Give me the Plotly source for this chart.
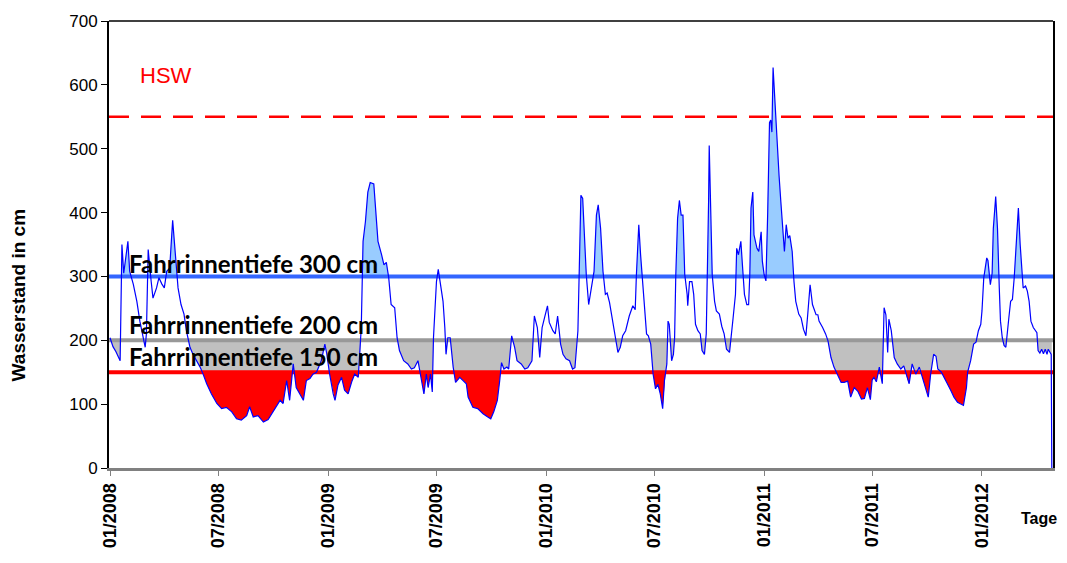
import numpy as np
import pandas as pd
import plotly.graph_objects as go

# Tageswerte Wasserstand (Tag seit 01.01.2008, Wasserstand in cm)
start = pd.Timestamp("2008-01-01")

tage = [
    0, 5, 10, 17, 20, 23, 30, 33, 39, 45, 50, 56, 59, 61, 64, 69, 72, 78, 82, 87,
    91, 95, 100, 105, 109, 112, 114, 119, 124, 128, 134, 139, 145, 151, 156, 162, 170, 179, 187, 195,
    204, 212, 220, 229, 234, 240, 248, 257, 265, 271, 279, 285, 290, 296, 301, 307, 312, 318, 324, 329,
    335, 340, 346, 354, 360, 363, 368, 374, 377, 382, 388, 393, 399, 405, 410, 416, 418, 421, 424, 428,
    432, 436, 442, 446, 449, 455, 459, 463, 467, 471, 477, 481, 485, 492, 499, 505, 510, 516, 522, 526,
    530, 533, 537, 540, 542, 547, 550, 554, 558, 561, 563, 566, 570, 575, 579, 586, 591, 597, 600, 608,
    616, 625, 633, 638, 643, 649, 653, 656, 660, 665, 668, 673, 678, 682, 689, 695, 700, 707, 711, 716,
    720, 724, 728, 733, 736, 742, 746, 750, 755, 759, 764, 770, 775, 779, 784, 786, 789, 792, 795, 798,
    802, 806, 811, 815, 818, 822, 826, 830, 833, 837, 842, 848, 851, 855, 859, 864, 870, 876, 880, 882,
    886, 889, 892, 895, 899, 902, 906, 910, 914, 918, 922, 926, 929, 933, 935, 937, 941, 944, 946, 948,
    951, 954, 957, 960, 963, 967, 968, 971, 975, 978, 981, 985, 989, 992, 996, 999, 1001, 1003, 1004, 1006,
    1009, 1013, 1016, 1021, 1025, 1029, 1033, 1038, 1041, 1044, 1048, 1050, 1053, 1057, 1060, 1063, 1067, 1070, 1072, 1074,
    1077, 1079, 1084, 1087, 1091, 1093, 1096, 1099, 1102, 1105, 1107, 1109, 1111, 1115, 1118, 1121, 1124, 1127, 1130, 1133,
    1136, 1139, 1143, 1146, 1149, 1154, 1158, 1162, 1166, 1169, 1173, 1177, 1183, 1186, 1188, 1194, 1199, 1203, 1208, 1213,
    1219, 1225, 1230, 1236, 1241, 1247, 1253, 1259, 1264, 1269, 1274, 1277, 1280, 1284, 1289, 1294, 1297, 1300, 1303, 1305,
    1309, 1314, 1319, 1325, 1330, 1336, 1339, 1344, 1350, 1356, 1361, 1367, 1371, 1375, 1380, 1384, 1387, 1393, 1397, 1403,
    1409, 1414, 1420, 1425, 1430, 1435, 1437, 1442, 1447, 1451, 1455, 1459, 1461, 1464, 1469, 1471, 1474, 1475, 1478, 1480,
    1484, 1487, 1490, 1492, 1495, 1498, 1501, 1503, 1506, 1509, 1512, 1515, 1519, 1522, 1525, 1528, 1530, 1534, 1537, 1540,
    1543, 1547, 1551, 1553, 1555, 1558, 1561, 1564, 1567, 1570, 1572, 1575, 1577, 1578,
]

wasserstand = [
    204, 190, 182, 168, 350, 305, 355, 308, 288, 261, 230, 199, 189, 210, 342, 292, 266, 282, 298, 288,
    282, 308, 313, 388, 344, 303, 282, 256, 241, 215, 189, 178, 168, 158, 147, 132, 116, 101, 93, 95,
    88, 77, 75, 82, 96, 80, 82, 72, 76, 85, 95, 106, 101, 137, 106, 163, 126, 116, 106, 137,
    140, 147, 150, 168, 194, 180, 147, 116, 106, 130, 142, 122, 116, 135, 147, 142, 168, 220, 355, 386,
    432, 447, 445, 401, 355, 334, 318, 322, 298, 256, 251, 204, 184, 168, 163, 155, 157, 168, 137, 116,
    147, 126, 147, 119, 204, 292, 311, 282, 261, 220, 178, 204, 204, 158, 134, 142, 138, 132, 111, 95,
    93, 85, 80, 77, 88, 106, 137, 165, 155, 158, 155, 207, 189, 168, 163, 155, 157, 168, 238, 220,
    173, 220, 235, 254, 228, 215, 210, 238, 194, 178, 171, 168, 155, 157, 215, 303, 427, 422, 355, 303,
    256, 277, 308, 396, 412, 375, 308, 272, 274, 259, 230, 199, 181, 189, 207, 215, 238, 254, 248, 303,
    381, 334, 292, 251, 210, 207, 194, 147, 124, 131, 116, 93, 137, 163, 230, 225, 168, 178, 204, 303,
    391, 419, 396, 396, 303, 272, 254, 292, 292, 272, 225, 215, 210, 184, 178, 210, 303, 420, 505, 407,
    303, 261, 246, 241, 222, 210, 186, 181, 204, 235, 272, 344, 334, 355, 313, 272, 256, 256, 303, 407,
    432, 365, 344, 339, 370, 324, 303, 293, 400, 541, 545, 526, 627, 552, 505, 458, 417, 375, 339, 381,
    360, 364, 339, 292, 261, 241, 235, 217, 207, 240, 287, 256, 240, 240, 230, 220, 210, 199, 173, 158,
    147, 134, 134, 136, 111, 126, 120, 108, 109, 126, 107, 138, 142, 135, 158, 132, 251, 240, 181, 233,
    215, 173, 163, 155, 160, 139, 132, 163, 147, 158, 142, 121, 111, 147, 178, 175, 155, 150, 142, 132,
    121, 111, 103, 101, 98, 126, 150, 168, 194, 197, 215, 225, 246, 298, 329, 325, 303, 287, 305, 375,
    425, 375, 282, 230, 204, 192, 189, 204, 235, 261, 264, 298, 365, 407, 350, 303, 282, 285, 277, 261,
    230, 220, 215, 212, 184, 180, 186, 179, 186, 178, 186, 181, 178, 0,
]

# Schwellenwerte
HSW = 550
TIEFE_300 = 300
TIEFE_200 = 200
TIEFE_150 = 150

# Achsenbeschriftung
tick_tage = [0, 182, 366, 547, 731, 912, 1096, 1277, 1461]
tick_text = ["01/2008", "07/2008", "01/2009", "07/2009", "01/2010",
             "07/2010", "01/2011", "07/2011", "01/2012"]

FONT = "Liberation Sans, Arial, sans-serif"


def mit_schnittpunkten(t, v, levels):
    """Insert the exact crossing points with each level so the fills end on the curve."""
    tt, vv = [t[0]], [v[0]]
    for i in range(1, len(t)):
        t0, v0, t1, v1 = t[i - 1], v[i - 1], t[i], v[i]
        cuts = []
        for h in levels:
            if (v0 - h) * (v1 - h) < 0:
                cuts.append((t0 + (h - v0) / (v1 - v0) * (t1 - t0), h))
        for c, h in sorted(cuts):
            tt.append(c)
            vv.append(h)
        tt.append(t1)
        vv.append(v1)
    return np.array(tt, dtype=float), np.array(vv, dtype=float)


t_arr = np.array(tage, dtype=float)
v_arr = np.array(wasserstand, dtype=float)
tf, vf = mit_schnittpunkten(t_arr, v_arr, [TIEFE_300, TIEFE_200, TIEFE_150])

to_date = lambda d: start + pd.to_timedelta(d, unit="D")
x_fill = to_date(tf)
x_line = to_date(t_arr)

x_lo = to_date(-1.67)
x_hi = to_date(1580.0)

fig = go.Figure()


def band(base, upper, color):
    fig.add_trace(go.Scatter(x=x_fill, y=np.full_like(vf, base), mode="lines",
                             line=dict(width=0), hoverinfo="skip", showlegend=False))
    fig.add_trace(go.Scatter(x=x_fill, y=upper, mode="lines", line=dict(width=0),
                             fill="tonexty", fillcolor=color, hoverinfo="skip",
                             showlegend=False))


# Flächen: über 300 cm, unter 200 cm, unter 150 cm
band(TIEFE_300, np.maximum(vf, TIEFE_300), "#99CCFF")
band(TIEFE_200, np.clip(vf, TIEFE_150, TIEFE_200), "#C0C0C0")
band(TIEFE_150, np.minimum(vf, TIEFE_150), "#FF0000")

# Referenzlinien
for lvl, col, w, dash in [(TIEFE_300, "#3366FF", 4, "solid"),
                          (TIEFE_200, "#999999", 4, "solid"),
                          (TIEFE_150, "#FF0000", 4, "solid"),
                          (HSW, "#FF0000", 2.5, "20px,12px")]:
    fig.add_trace(go.Scatter(x=[x_lo, x_hi], y=[lvl, lvl], mode="lines",
                             line=dict(color=col, width=w, dash=dash),
                             hoverinfo="skip", showlegend=False))

# Wasserstandsganglinie
fig.add_trace(go.Scatter(x=x_line, y=v_arr, mode="lines",
                         line=dict(color="#0000FF", width=1.2),
                         name="Wasserstand", showlegend=False))

label_font = dict(family="Lato, Open Sans, sans-serif", size=24, color="black", weight="bold")
for txt, yv in [("Fahrrinnentiefe 300 cm", 321),
                ("Fahrrinnentiefe 200 cm", 224),
                ("Fahrrinnentiefe 150 cm", 174)]:
    fig.add_annotation(x=0.019, xref="paper", y=yv, yref="y", text=txt,
                       showarrow=False, xanchor="left", yanchor="middle", font=label_font)

fig.add_annotation(x=0.031, xref="paper", y=614, yref="y", text="HSW", showarrow=False,
                   xanchor="left", yanchor="middle",
                   font=dict(family=FONT, size=22, color="#FF0000"))

fig.add_annotation(x=0.985, xref="paper", y=-0.113, yref="paper", text="Tage",
                   showarrow=False, xanchor="center", yanchor="middle",
                   font=dict(family=FONT, size=16, color="black", weight="bold"))

# Achsentitel y
fig.add_annotation(x=-0.096, xref="paper", y=0.387, yref="paper", text="Wasserstand in cm",
                   showarrow=False, textangle=-90, xanchor="center", yanchor="middle",
                   font=dict(family=FONT, size=19, color="black", weight="bold"))

# Rahmen oben
fig.add_shape(type="line", xref="paper", yref="paper", x0=0, x1=1, y0=1, y1=1,
              line=dict(color="black", width=1.5))

fig.update_layout(
    width=1067, height=563,
    margin=dict(l=109, r=13, t=18, b=95),
    plot_bgcolor="white", paper_bgcolor="white",
    xaxis=dict(type="date", range=[x_lo, x_hi], tickvals=to_date(np.array(tick_tage, dtype=float)),
               ticktext=tick_text, tickangle=-90, showgrid=False, zeroline=False,
               ticks="outside", ticklen=5, tickcolor="#808080",
               showline=True, linecolor="#808080", linewidth=3,
               tickfont=dict(family=FONT, size=18, color="black", weight="bold")),
    yaxis=dict(range=[0, 700], dtick=100, showgrid=False, zeroline=False,
               ticks="outside", ticklen=6, tickcolor="black",
               showline=True, linecolor="black", linewidth=2, mirror=True,
               tickfont=dict(family=FONT, size=17, color="black")),
)

fig.write_html("out.html")
